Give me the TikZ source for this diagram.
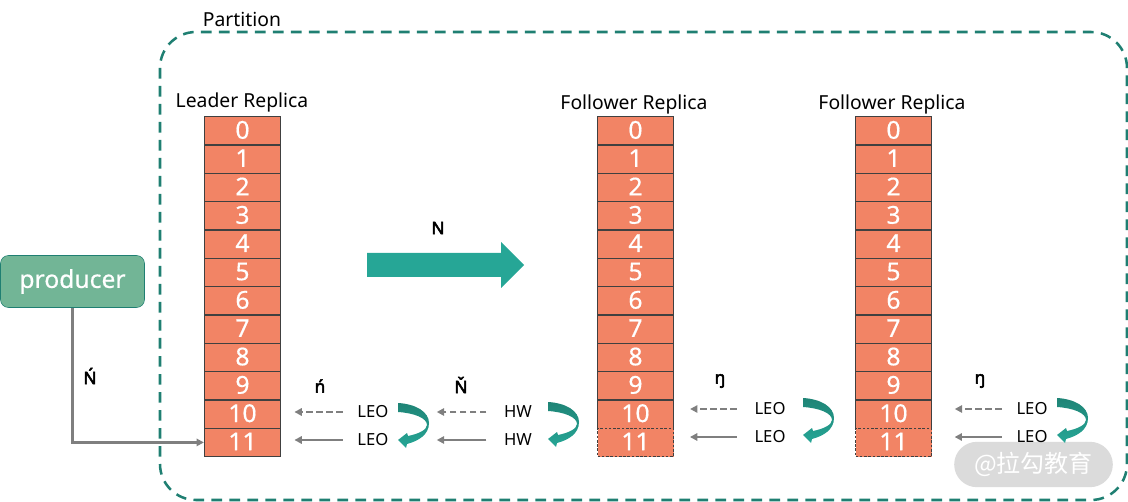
\documentclass[tikz,border=0pt]{standalone}
\usepackage{fontspec}
\setmainfont{Noto Sans}
\newfontfamily\cjkfont{Noto Sans CJK SC}
\newfontfamily\heavyfont{Noto Sans}[FakeBold=3]
\newfontfamily\midfont{Noto Sans}[FakeBold=0.5]
\usetikzlibrary{arrows.meta}
\definecolor{rowfill}{HTML}{F28465}
\definecolor{rowline}{HTML}{404040}
\definecolor{framegreen}{HTML}{1F7F72}
\definecolor{tealdark}{HTML}{1F8476}
\definecolor{teallight}{HTML}{26A696}
\definecolor{linegray}{HTML}{7F7F7F}
\definecolor{producergreen}{HTML}{72B596}
\tikzset{
    rowbox/.style={draw=rowline, fill=rowfill, line width=0.9pt, minimum width=57pt, minimum height=21.25pt, inner sep=0pt, text=white, text depth=1.5pt, font=\midfont\fontsize{18.5}{18}\selectfont},
    rowdash/.style={rowbox, dashed, line width=0.7pt, dash pattern=on 2pt off 1.2pt},
    title/.style={inner sep=0pt, font=\fontsize{14.5}{15}\selectfont},
    mark label/.style={inner sep=0pt, font=\heavyfont\fontsize{13}{13}\selectfont},
    ptr/.style={inner sep=0pt, font=\fontsize{12.5}{13}\selectfont},
    solidptr/.style={-{Triangle[length=5.5pt,width=5.5pt]}, linegray, line width=1.9pt},
    dashptr/.style={solidptr, dash pattern=on 5pt off 2.5pt},
    hopcurve/.pic={
        \shade[top color=tealdark, bottom color=teallight]
            (0,0) .. controls (18,1) and (31,9) .. (31,20) .. controls (31,32) and (20,38) .. (9,41)
            -- (8,45) -- (0,37) -- (9,30) -- (10,33) .. controls (20,31) and (29,27) .. (29,22)
            .. controls (29,15) and (16,10) .. (0,9) -- cycle;
    }
}

\begin{document}
\begin{tikzpicture}[x=0.75pt, y=-0.75pt]
    \useasboundingbox (0,0) rectangle (1128,502);

    % Partition frame and watermark
    \draw[framegreen, line width=1.9pt, dash pattern=on 8pt off 5.5pt, rounded corners=27pt] (160,32) rectangle (1127,500);
    \node[fill=black!14, rounded corners=17pt, minimum width=119pt, minimum height=34pt, inner sep=0pt, text=white, font=\cjkfont\fontsize{18}{18}\selectfont] (mark) at (1033.5,464.5) {@拉勾教育};
    \node[title] (partition) at (242,19) {Partition};

    % Replica logs
    \node[title] (leader) at (242,102.5) {Leader Replica};
    \node[title] (followera) at (634,104.5) {Follower Replica};
    \node[title] (followerb) at (892,104.5) {Follower Replica};
    \foreach \i in {0,...,11}
        \node[rowbox] (l\i) at (242.5,{130.8+28.33*\i}) {\i};
    \foreach \i in {0,...,10} {
        \node[rowbox] (a\i) at (635.5,{130.8+28.33*\i}) {\i};
        \node[rowbox] (b\i) at (893.5,{130.8+28.33*\i}) {\i};
    }
    \node[rowdash] (a11) at (635.5,442.4) {11};
    \node[rowdash] (b11) at (893.5,442.4) {11};

    % Producer
    \node[draw=framegreen, fill=producergreen, rounded corners=6pt, minimum width=108pt, minimum height=39pt, inner sep=0pt, text=white, font=\midfont\fontsize{18.5}{17}\selectfont] (producer) at (72.5,281.5) {producer};
    \draw[solidptr] (producer.south) |- (l11.west);

    % Replication arrow
    \fill[teallight] (367,253) -- (501,253) -- (501,242) -- (524,265) -- (501,288) -- (501,277) -- (367,277) -- cycle;

    % LEO and HW pointers
    \node[ptr] (leoa) at (373,412) {LEO};
    \node[ptr] (leob) at (373,440) {LEO};
    \node[ptr] (hwa) at (518,412) {HW};
    \node[ptr] (hwb) at (518,440) {HW};
    \node[ptr] (leoc) at (770,409) {LEO};
    \node[ptr] (leod) at (770,437) {LEO};
    \node[ptr] (leoe) at (1032,409) {LEO};
    \node[ptr] (leof) at (1032,437) {LEO};

    \draw[dashptr, shorten <=11pt, shorten >=10pt] (leoa.west) -- (l10.east |- leoa.west);
    \draw[solidptr, shorten <=11pt, shorten >=10pt] (leob.west) -- (l11.east |- leob.west);
    \draw[dashptr, shorten <=13pt, shorten >=36pt] (hwa.west) -- (leoa.east |- hwa.west);
    \draw[solidptr, shorten <=13pt, shorten >=36pt] (hwb.west) -- (leob.east |- hwb.west);
    \draw[dashptr, shorten <=13pt, shorten >=12pt] (leoc.west) -- (a10.east |- leoc.west);
    \draw[solidptr, shorten <=13pt, shorten >=12pt] (leod.west) -- (a11.east |- leod.west);
    \draw[dashptr, shorten <=11pt, shorten >=17pt] (leoe.west) -- (b10.east |- leoe.west);
    \draw[solidptr, shorten <=11pt, shorten >=17pt] (leof.west) -- (b11.east |- leof.west);

    % Curved hops
    \pic at (398,403) {hopcurve};
    \pic at (548,402) {hopcurve};
    \pic at (803,398) {hopcurve};
    \pic at (1057,398) {hopcurve};

    % Step marks
    \node[mark label] (marka) at (438,228) {N};
    \node[mark label] (markb) at (90,376) {Ń};
    \node[mark label] (markc) at (320,386) {ń};
    \node[mark label] (markd) at (461,385) {Ň};
    \node[mark label] (marke) at (720,381) {ŋ};
    \node[mark label] (markf) at (980,381) {ŋ};
\end{tikzpicture}
\end{document}
